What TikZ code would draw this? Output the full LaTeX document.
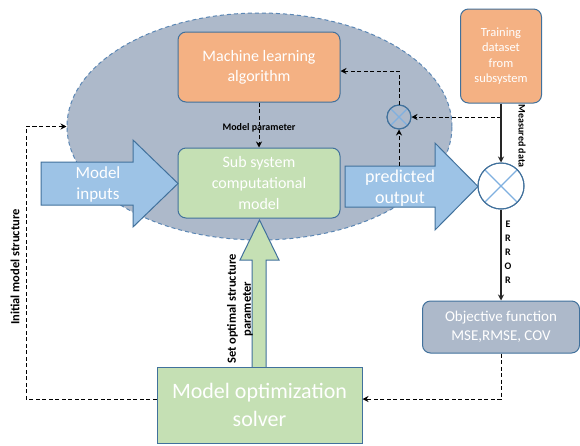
\documentclass[tikz,border=0pt]{standalone}
\usepackage{fontspec}
\setmainfont{Carlito}
\usetikzlibrary{shapes.geometric,arrows.meta}
\definecolor{bordc}{HTML}{41719C}
\definecolor{ellfill}{HTML}{ADB9CA}
\definecolor{ellline}{HTML}{5B87B5}
\definecolor{orangec}{HTML}{F4B183}
\definecolor{greenc}{HTML}{C5E0B4}
\definecolor{bluec}{HTML}{9DC3E6}
\definecolor{xblue}{HTML}{7FB0E0}
\tikzset{
  box/.style={draw=bordc, line width=1pt, rounded corners=8pt, text=white, align=center, inner sep=0pt},
  bigarrow/.style={draw=bordc, line width=1pt, line join=miter},
  dline/.style={draw=black, line width=1pt, dash pattern=on 4pt off 2.5pt, -{Stealth[length=6pt,width=6pt]}},
  sline/.style={draw=black!85, line width=1.3pt, -{Stealth[length=6pt,width=6pt]}},
  lbl/.style={font=\bfseries\fontsize{10}{11}\selectfont, text=black, inner sep=0pt},
  xcircle/.style={circle, draw=bordc, line width=1pt, inner sep=0pt},
  xline/.style={draw=xblue, line width=1.1pt},
}
\begin{document}
\begin{tikzpicture}[x=1pt,y=-1pt]
\useasboundingbox[fill=white] (0,0) rectangle (580,445);
% ellipse region
\node[ellipse, draw=ellline, fill=ellfill, line width=1pt, dash pattern=on 4pt off 3pt,
  minimum width=385pt, minimum height=227pt, inner sep=0pt] (cloud) at (259.5,126.5) {};
% boxes
\node[box, fill=orangec, minimum width=162pt, minimum height=70pt,
  font=\fontsize{16}{20}\selectfont] (ml) at (259,67) {Machine learning\\algorithm};
\node[box, fill=greenc, minimum width=162pt, minimum height=70pt,
  font=\fontsize{16}{21}\selectfont] (sub) at (259,183) {Sub system\\computational\\model};
\node[box, fill=orangec, minimum width=81pt, minimum height=94pt,
  font=\fontsize{12.5}{15.5}\selectfont] (train) at (501,56) {Training\\dataset\\from\\subsystem};
\node[box, fill=ellfill, minimum width=157pt, minimum height=52pt,
  font=\fontsize{15}{19}\selectfont] (obj) at (501,327) {Objective function\\MSE,RMSE, COV};
% big arrows
\draw[bigarrow, fill=bluec] (41,162) -- (133,162) -- (133,140) -- (178,183.5) -- (133,227) -- (133,205) -- (41,205) -- cycle;
\node[text=white, align=center, font=\fontsize{17}{21}\selectfont, inner sep=0pt] (minp) at (98,184) {Model\\inputs};
\draw[bigarrow, fill=bluec] (345,166) -- (435,166) -- (435,143) -- (478,186.5) -- (435,230) -- (435,207) -- (345,207) -- cycle;
\node[text=white, align=center, font=\fontsize{18}{21}\selectfont, inner sep=0pt] (pout) at (400,188) {predicted\\output};
\coordinate (potop) at (399,166);
\draw[bigarrow, fill=greenc] (252,368) -- (252,260) -- (240,260) -- (259.5,220) -- (279,260) -- (266,260) -- (266,368) -- cycle;
% solver
\node[draw=bordc, line width=1pt, fill=greenc, text=white, align=center, inner sep=0pt,
  minimum width=205pt, minimum height=76pt, font=\fontsize{22}{28}\selectfont] (solver) at (259.5,405) {Model optimization\\solver};
% circles
\node[xcircle, fill=ellfill, minimum size=24pt] (sc) at (399,117) {};
\draw[xline] ([shift={(-8.2pt,-8.2pt)}]sc.center) -- ([shift={(8.2pt,8.2pt)}]sc.center)
             ([shift={(-8.2pt,8.2pt)}]sc.center) -- ([shift={(8.2pt,-8.2pt)}]sc.center);
\node[xcircle, fill=white, minimum size=46pt] (err) at (501,186) {};
\draw[xline] ([shift={(-16pt,-16pt)}]err.center) -- ([shift={(16pt,16pt)}]err.center)
             ([shift={(-16pt,16pt)}]err.center) -- ([shift={(16pt,-16pt)}]err.center);
\draw[bordc, line width=1pt] (sc.center) circle [radius=12pt] (err.center) circle [radius=23pt];
% connectors
\draw[dline] (ml.south) -- node[lbl, pos=0.57] {Model parameter} (sub.north);
\draw[dline] (potop) -- (sc.south);
\draw[dline] (sc.north) |- ([yshift=-4pt]ml.east);
\draw[dline] (train.south |- sc.east) -- (sc.east);
\draw[sline] (train.south) -- (err.north);
\draw[sline] (err.south) -- (obj.north);
\draw[dline] (obj.south) |- ([yshift=6pt]solver.east);
\coordinate (lx) at (26,0);
\draw[dline] ([yshift=6pt]solver.west) -| (lx |- cloud.west) -- (cloud.west);
% labels
\node[lbl, rotate=-90] (mdata) at (522,136) {Measured data};
\node[lbl, align=center, font=\bfseries\fontsize{10}{14}\selectfont] (errl) at (508,252) {E\\R\\R\\O\\R};
\node[lbl, rotate=90, font=\bfseries\fontsize{12.5}{14}\selectfont] (initl) at (15,267) {Initial model structure};
\node[lbl, rotate=90, align=center, font=\bfseries\fontsize{12.5}{15}\selectfont] (setl) at (240,309) {Set optimal structure\\parameter};
\end{tikzpicture}
\end{document}
